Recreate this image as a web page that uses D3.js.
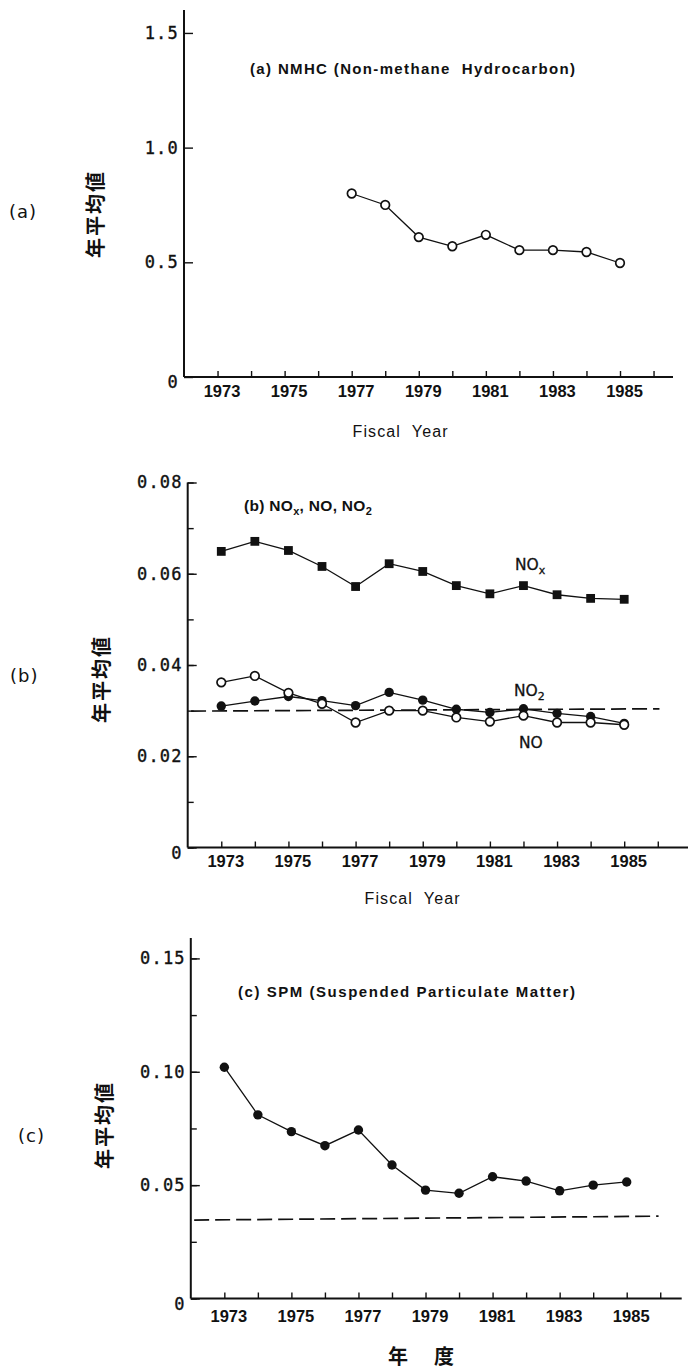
<!DOCTYPE html>
<html>
<head>
<meta charset="utf-8">
<script src="https://cdn.jsdelivr.net/npm/d3@7"></script>
<style>
  body { margin: 0; background: #fff; }
  svg { display: block; }
  text { white-space: pre; fill: #111; }
</style>
</head>
<body>
<svg id="chart" width="688" height="1371"></svg>
<script>
// ---- data: annual mean concentrations by fiscal year ----
const nmhcYears = [1977, 1978, 1979, 1980, 1981, 1982, 1983, 1984, 1985];
const nmhc      = [0.80, 0.75, 0.61, 0.57, 0.62, 0.553, 0.553, 0.545, 0.497];

const years = [1973, 1974, 1975, 1976, 1977, 1978, 1979, 1980, 1981, 1982, 1983, 1984, 1985];
const nox = [0.0649, 0.0671, 0.0651, 0.0616, 0.0572, 0.0622, 0.0605, 0.0574, 0.0556, 0.0574, 0.0554, 0.0546, 0.0544];
const no  = [0.0362, 0.0376, 0.0339, 0.0315, 0.0274, 0.0300, 0.0300, 0.0285, 0.0276, 0.0289, 0.0274, 0.0274, 0.0269];
const no2 = [0.0310, 0.0321, 0.0331, 0.0322, 0.0311, 0.0340, 0.0323, 0.0303, 0.0296, 0.0304, 0.0294, 0.0287, 0.0272];
const spm = [0.102, 0.081, 0.0736, 0.0674, 0.0743, 0.0589, 0.0478, 0.0464, 0.0537, 0.0518, 0.0475, 0.0500, 0.0514];

// environmental standard reference lines (dashed)
const no2StdYears = [1972.1, 1986.05];
const no2Std      = [0.0299, 0.0304];
const spmStdYears = [1972.1, 1985.95];
const spmStd      = [0.0346, 0.0363];

// axis ticks
const tickYears  = [1973, 1974, 1975, 1976, 1977, 1978, 1979, 1980, 1981, 1982, 1983, 1984, 1985, 1986];
const labelYears = [1973, 1975, 1977, 1979, 1981, 1983, 1985];
const aTicks = [0, 0.5, 1.0, 1.5];
const aLabels = ["0", "0.5", "1.0", "1.5"];
const bTicks = [0, 0.01, 0.02, 0.03, 0.04, 0.05, 0.06, 0.07, 0.08];
const bLabelTicks = [0, 0.02, 0.04, 0.06, 0.08];
const bLabels = ["0", "0.02", "0.04", "0.06", "0.08"];
const cTicks = [0, 0.025, 0.05, 0.075, 0.10, 0.125, 0.15];
const cLabelTicks = [0, 0.05, 0.10, 0.15];
const cLabels = ["0", "0.05", "0.10", "0.15"];

const svg = d3.select("#chart");
const INK = "#111";

function panel(cfg) {
  const x = d3.scaleLinear().domain(cfg.xDomain).range(cfg.xRange);
  const y = d3.scaleLinear().domain(cfg.yDomain).range(cfg.yRange);
  const g = svg.append("g");

  // axis lines
  g.append("line")
    .attr("x1", x(cfg.xDomain[0])).attr("x2", x(cfg.xDomain[0]))
    .attr("y1", y(0)).attr("y2", y(cfg.yDomain[1]))
    .attr("stroke", INK).attr("stroke-width", 2);
  g.append("line")
    .attr("x1", x(cfg.xDomain[0])).attr("x2", x(cfg.xDomain[1]))
    .attr("y1", y(0)).attr("y2", y(0))
    .attr("stroke", INK).attr("stroke-width", 2);

  // x ticks (pointing up), labels on odd years
  const xa = g.append("g").attr("transform", `translate(0,${y(0)})`)
    .call(d3.axisBottom(x).tickValues(tickYears).tickSizeInner(-6).tickSizeOuter(0)
      .tickPadding(cfg.xPad)
      .tickFormat(d => labelYears.includes(d) ? String(d) : ""));
  xa.select(".domain").remove();
  xa.selectAll(".tick line").attr("stroke", INK).attr("stroke-width", 1.4);
  xa.selectAll(".tick text")
    .attr("dx", 4)
    .attr("font-family", "'Liberation Sans', Arial, sans-serif")
    .attr("font-weight", "bold").attr("font-size", 16.5).attr("fill", INK);

  // y minor ticks
  if (cfg.yMinor) {
    const ym = g.append("g").attr("transform", `translate(${x(cfg.xDomain[0])},0)`)
      .call(d3.axisLeft(y).tickValues(cfg.yMinor).tickSizeInner(-6).tickSizeOuter(0).tickFormat(""));
    ym.select(".domain").remove();
    ym.selectAll(".tick line").attr("stroke", INK).attr("stroke-width", 1.4);
  }
  // y major ticks with labels
  const ya = g.append("g").attr("transform", `translate(${x(cfg.xDomain[0])},0)`)
    .call(d3.axisLeft(y).tickValues(cfg.yMajor).tickSizeInner(-9).tickSizeOuter(0)
      .tickPadding(5)
      .tickFormat((d, i) => cfg.yLabels[i]));
  ya.select(".domain").remove();
  ya.selectAll(".tick line").attr("stroke", INK).attr("stroke-width", 1.4);
  ya.selectAll(".tick text")
    .attr("font-family", "'DejaVu Sans Mono', monospace")
    .attr("font-size", 17).attr("letter-spacing", 1.2).attr("fill", INK)
    .attr("stroke", INK).attr("stroke-width", 0.35)
    .attr("dy", (d) => d === 0 ? "0.62em" : "0.32em");

  // rotated y title
  g.append("text")
    .attr("transform", `translate(${cfg.yTitle[0]},${cfg.yTitle[1]}) rotate(-90)`)
    .attr("text-anchor", "middle").attr("dy", "0.36em")
    .attr("font-family", "'Noto Sans CJK JP', sans-serif")
    .attr("font-weight", "bold").attr("font-size", 20)
    .attr("textLength", 86).attr("lengthAdjust", "spacing")
    .text("年平均値");

  // panel tag at far left
  g.append("text")
    .attr("x", cfg.tag[0]).attr("y", cfg.tag[1]).attr("dy", "0.36em")
    .attr("font-family", "'DejaVu Sans', sans-serif")
    .attr("font-size", 18).attr("letter-spacing", 1)
    .text(cfg.tagText);

  return { g, x, y };
}

function series(p, xs, ys, marker) {
  const line = d3.line().x((d, i) => p.x(xs[i])).y(d => p.y(d));
  p.g.append("path").datum(ys).attr("d", line)
    .attr("fill", "none").attr("stroke", INK).attr("stroke-width", 1.3);
  const pts = p.g.append("g").selectAll("g").data(ys).join("g")
    .attr("transform", (d, i) => `translate(${p.x(xs[i])},${p.y(d)})`);
  if (marker === "square") {
    pts.append("rect").attr("x", -4.4).attr("y", -4.4).attr("width", 8.8).attr("height", 8.8)
      .attr("fill", INK);
  } else if (marker === "open") {
    pts.append("circle").attr("r", 4.3).attr("fill", "#fff")
      .attr("stroke", INK).attr("stroke-width", 1.7);
  } else {
    pts.append("circle").attr("r", 4.7).attr("fill", INK);
  }
}

function dashed(p, xs, ys) {
  p.g.append("line")
    .attr("x1", p.x(xs[0])).attr("x2", p.x(xs[1]))
    .attr("y1", p.y(ys[0])).attr("y2", p.y(ys[1]))
    .attr("stroke", INK).attr("stroke-width", 1.7)
    .attr("stroke-dasharray", "15,6");
}

function title(p, x, y, str, len) {
  p.g.append("text").attr("x", x).attr("y", y).attr("dy", "0.36em")
    .attr("font-family", "'Liberation Sans', Arial, sans-serif")
    .attr("font-weight", "bold").attr("font-size", 15)
    .attr("textLength", len).attr("lengthAdjust", "spacing")
    .text(str);
}

function axisTitle(p, cx, cy, str, len, opts = {}) {
  p.g.append("text").attr("x", cx).attr("y", cy).attr("dy", "0.36em")
    .attr("text-anchor", "middle")
    .attr("font-family", opts.family || "'Liberation Sans', Arial, sans-serif")
    .attr("font-weight", opts.weight || "normal")
    .attr("font-size", opts.size || 16)
    .attr("textLength", len).attr("lengthAdjust", "spacing")
    .text(str);
}

// ---- (a) NMHC ----
const pa = panel({
  xDomain: [1972, 1986.58], xRange: [184, 673],
  yDomain: [0, 1.6], yRange: [377, 10],
  yMajor: aTicks, yLabels: aLabels, xPad: 8,
  yTitle: [96, 215], tag: [9, 212], tagText: "(a)"
});
title(pa, 250, 69, "(a) NMHC (Non-methane  Hydrocarbon)", 325);
series(pa, nmhcYears, nmhc, "open");
axisTitle(pa, 400, 431, "Fiscal  Year", 95);

// ---- (b) NOx, NO, NO2 ----
const pb = panel({
  xDomain: [1972, 1986.9], xRange: [187.7, 688],
  yDomain: [0, 0.08], yRange: [847.5, 482.5],
  yMajor: bLabelTicks, yLabels: bLabels, yMinor: bTicks, xPad: 8,
  yTitle: [102, 680], tag: [10, 676], tagText: "(b)"
});
{
  const t = pb.g.append("text").attr("x", 244).attr("y", 511)
    .attr("font-family", "'Liberation Sans', Arial, sans-serif")
    .attr("font-weight", "bold").attr("font-size", 15.5).attr("letter-spacing", 0.3);
  t.append("tspan").text("(b) NO");
  t.append("tspan").attr("dy", 4).attr("font-size", 11).text("x");
  t.append("tspan").attr("dy", -4).text(", NO, NO");
  t.append("tspan").attr("dy", 4).attr("font-size", 11).text("2");
}
dashed(pb, no2StdYears, no2Std);
series(pb, years, no2, "filled");
series(pb, years, no, "open");
series(pb, years, nox, "square");
{
  const lab = (x, y, main, sub) => {
    const t = pb.g.append("text").attr("x", x).attr("y", y)
      .attr("font-family", "'DejaVu Sans', sans-serif").attr("font-size", 15.5)
      .attr("stroke", INK).attr("stroke-width", 0.3);
    t.append("tspan").text(main);
    if (sub) t.append("tspan").attr("dy", 4).attr("font-size", 11).text(sub);
  };
  lab(515, 570, "NO", "x");
  lab(514, 696, "NO", "2");
  lab(519, 748, "NO", null);
}
axisTitle(pb, 412, 898, "Fiscal  Year", 95);

// ---- (c) SPM ----
const pc = panel({
  xDomain: [1972, 1986.64], xRange: [190.8, 681.7],
  yDomain: [0, 0.159], yRange: [1298.5, 938],
  yMajor: cLabelTicks, yLabels: cLabels, yMinor: cTicks, xPad: 12,
  yTitle: [105, 1126], tag: [18, 1136], tagText: "(c)"
});
title(pc, 238, 992, "(c) SPM (Suspended Particulate Matter)", 337);
dashed(pc, spmStdYears, spmStd);
series(pc, years, spm, "filled");
axisTitle(pc, 421, 1357, "年  度", 66,
  { family: "'Noto Sans CJK JP', sans-serif", weight: "bold", size: 20 });
</script>
</body>
</html>
